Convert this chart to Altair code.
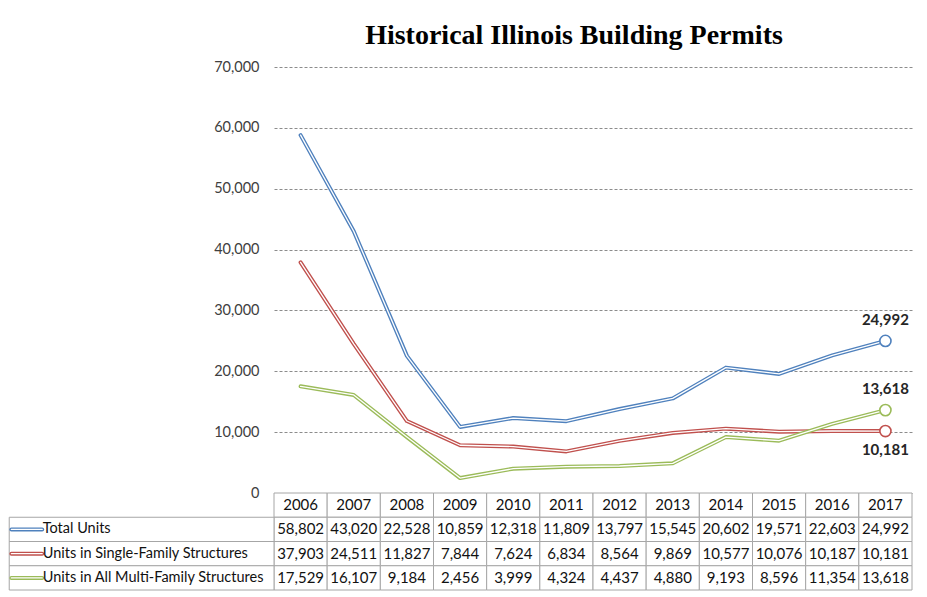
import altair as alt
import pandas as pd

# ---------------- data ----------------
years = list(range(2006, 2018))
series_names = [
    "Total Units",
    "Units in Single-Family Structures",
    "Units in All Multi-Family Structures",
]
total_units = [58802, 43020, 22528, 10859, 12318, 11809, 13797, 15545, 20602, 19571, 22603, 24992]
single_family = [37903, 24511, 11827, 7844, 7624, 6834, 8564, 9869, 10577, 10076, 10187, 10181]
multi_family = [17529, 16107, 9184, 2456, 3999, 4324, 4437, 4880, 9193, 8596, 11354, 13618]
y_ticks = [0, 10000, 20000, 30000, 40000, 50000, 60000, 70000]
title_text = "Historical Illinois Building Permits"

# ---------------- styling constants ----------------
colors = ["#4F81BD", "#C0504D", "#9BBB59"]
FONT = "Lato"
FS = 15
PLOT_W = 638
PLOT_H = 426
TABLE_H = 97
LABEL_COLS = 4.98          # width of the label column in "year" units
X0 = years[0] - 0.5
X1 = years[-1] + 0.5
GRID = "#8c8c8c"
BORDER = "#a6a6a6"

values = [total_units, single_family, multi_family]
long = pd.DataFrame(
    [
        {"year": y, "series": s, "value": v}
        for s, vals in zip(series_names, values)
        for y, v in zip(years, vals)
    ]
)
last = long[long["year"] == years[-1]].copy()

xscale = alt.Scale(domain=[X0, X1], nice=False, zero=False)
color_scale = alt.Scale(domain=series_names, range=colors)
yaxis = alt.Axis(
    values=y_ticks,
    format=",.0f",
    grid=True,
    gridDash=[3, 2],
    gridColor=GRID,
    gridWidth=1,
    domain=False,
    ticks=False,
    labelFont=FONT,
    labelFontSize=14.5,
    labelColor="#404040",
    labelPadding=15,
    title=None,
)
yenc = alt.Y("value:Q", scale=alt.Scale(domain=[0, 70000], nice=False), axis=yaxis)
xenc = alt.X("year:Q", scale=xscale, axis=None)

base = alt.Chart(long).encode(x=xenc, y=yenc)

lines = []
for s, c in zip(series_names, colors):
    sub = base.transform_filter(alt.datum.series == s)
    lines.append(sub.mark_line(color=c, strokeWidth=4, strokeCap="round", strokeJoin="round"))
    lines.append(sub.mark_line(color="white", strokeWidth=1.3, strokeCap="round", strokeJoin="round"))

end_pts = alt.Chart(last).mark_point(
    filled=True, fill="white", size=125, strokeWidth=1.6, opacity=1
).encode(
    x=xenc,
    y=yenc,
    stroke=alt.Stroke("series:N", scale=color_scale, legend=None),
)

lab_common = dict(font=FONT, fontSize=FS, fontWeight="bold", color="#262626", align="center")
end_above = alt.Chart(last).transform_filter(
    alt.datum.series != series_names[1]
).mark_text(dy=-21, **lab_common).encode(
    x=xenc, y=yenc, text=alt.Text("value:Q", format=",.0f"),
)
end_below = alt.Chart(last).transform_filter(
    alt.datum.series == series_names[1]
).mark_text(dy=19, **lab_common).encode(
    x=xenc, y=yenc, text=alt.Text("value:Q", format=",.0f"),
)

top = alt.layer(*lines, end_pts, end_above, end_below).properties(
    width=PLOT_W,
    height=PLOT_H,
    title=alt.TitleParams(
        title_text,
        font="Liberation Serif",
        fontSize=28,
        fontWeight="bold",
        color="#000000",
        anchor="middle",
        dx=-19,
        offset=9,
    ),
)

# ---------------- data table ----------------
rows = ["header"] + series_names
cells = []
for y in years:
    cells.append({"row": "header", "x0": y - 0.5, "x1": y + 0.5, "xc": y, "txt": str(y)})
for s, vals in zip(series_names, values):
    for y, v in zip(years, vals):
        cells.append({"row": s, "x0": y - 0.5, "x1": y + 0.5, "xc": y, "txt": f"{v:,}"})
    cells.append({"row": s, "x0": X0 - LABEL_COLS, "x1": X0, "xc": None, "txt": ""})
cells = pd.DataFrame(cells)

labels = pd.DataFrame(
    {
        "row": series_names,
        "series": series_names,
        "sx0": [X0 - LABEL_COLS + 0.04] * 3,
        "sx1": [X0 - LABEL_COLS + 0.62] * 3,
        "tx": [X0 - LABEL_COLS + 0.63] * 3,
    }
)

yband = alt.Y(
    "row:N",
    sort=rows,
    scale=alt.Scale(domain=rows, paddingInner=0, paddingOuter=0),
    axis=None,
)

cell_rects = alt.Chart(cells).mark_rect(
    fill="white", stroke=BORDER, strokeWidth=1
).encode(
    x=alt.X("x0:Q", scale=xscale, axis=None),
    x2="x1:Q",
    y=yband,
)
cell_text = alt.Chart(cells).transform_filter(
    alt.datum.txt != ""
).mark_text(font=FONT, fontSize=FS, color="#111111", align="center", baseline="middle").encode(
    x=alt.X("xc:Q", scale=xscale, axis=None),
    y=yband,
    text="txt:N",
)
sym_outer = alt.Chart(labels).mark_rule(strokeWidth=4, strokeCap="round").encode(
    x=alt.X("sx0:Q", scale=xscale, axis=None),
    x2="sx1:Q",
    y=yband,
    color=alt.Color("series:N", scale=color_scale, legend=None),
)
sym_inner = alt.Chart(labels).mark_rule(strokeWidth=1.3, color="white", strokeCap="round").encode(
    x=alt.X("sx0:Q", scale=xscale, axis=None),
    x2="sx1:Q",
    y=yband,
)
label_text = alt.Chart(labels).mark_text(
    font=FONT, fontSize=14.5, color="#111111", align="left", baseline="middle"
).encode(
    x=alt.X("tx:Q", scale=xscale, axis=None),
    y=yband,
    text="series:N",
)

table = alt.layer(cell_rects, cell_text, sym_outer, sym_inner, label_text).properties(
    width=PLOT_W, height=TABLE_H
)

chart = alt.vconcat(top, table, spacing=0, bounds="flush").properties(
    padding={"left": 0, "top": 14, "right": 5, "bottom": 0}
).configure_view(stroke=None).configure_concat(spacing=0)

chart.save("out.html", embed_options={"renderer": "svg", "actions": False})
